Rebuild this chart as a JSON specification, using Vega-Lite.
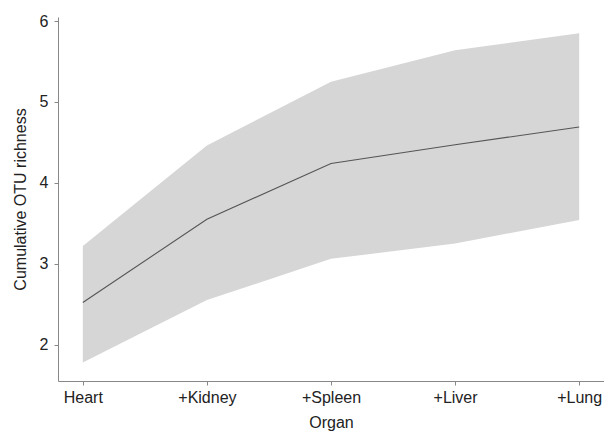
{
  "$schema": "https://vega.github.io/schema/vega-lite/v6.json",
  "width": 546,
  "height": 364,
  "autosize": {"type": "none"},
  "padding": {"left": 58, "top": 17, "right": 0, "bottom": 53},
  "background": "white",
  "config": {
    "view": {"stroke": null},
    "font": "Liberation Sans",
    "axis": {
      "labelFont": "Liberation Sans",
      "titleFont": "Liberation Sans",
      "labelFontSize": 16,
      "titleFontSize": 16,
      "titleFontWeight": "normal",
      "labelColor": "#222222",
      "titleColor": "#222222",
      "domainColor": "#888888",
      "tickColor": "#888888",
      "tickSize": 4,
      "grid": false
    }
  },
  "data": {
    "values": [
      {"organ": "Heart", "mean": 2.52, "lower": 1.78, "upper": 3.22},
      {"organ": "+Kidney", "mean": 3.55, "lower": 2.55, "upper": 4.46},
      {"organ": "+Spleen", "mean": 4.24, "lower": 3.06, "upper": 5.25},
      {"organ": "+Liver", "mean": 4.47, "lower": 3.25, "upper": 5.64},
      {"organ": "+Lung", "mean": 4.69, "lower": 3.54, "upper": 5.85}
    ]
  },
  "layer": [
    {
      "mark": {"type": "area", "color": "#d6d6d6", "opacity": 1},
      "encoding": {
        "x": {
          "field": "organ",
          "type": "ordinal",
          "sort": ["Heart", "+Kidney", "+Spleen", "+Liver", "+Lung"],
          "scale": {"type": "point", "padding": 0.2},
          "axis": {"title": "Organ", "labelAngle": 0, "labelPadding": 4, "titlePadding": 9}
        },
        "y": {
          "field": "lower",
          "type": "quantitative",
          "scale": {"domain": [1.55, 6.05], "nice": false, "zero": false},
          "axis": {"title": "Cumulative OTU richness", "values": [2, 3, 4, 5, 6], "format": "d", "labelPadding": 6, "titlePadding": 11}
        },
        "y2": {"field": "upper"}
      }
    },
    {
      "mark": {"type": "line", "color": "#555555", "strokeWidth": 1.1},
      "encoding": {
        "x": {
          "field": "organ",
          "type": "ordinal",
          "sort": ["Heart", "+Kidney", "+Spleen", "+Liver", "+Lung"]
        },
        "y": {"field": "mean", "type": "quantitative"}
      }
    }
  ]
}
